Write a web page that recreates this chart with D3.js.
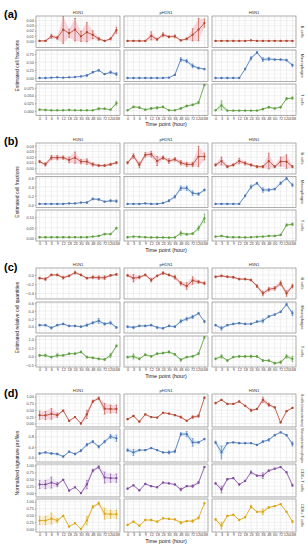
<!DOCTYPE html>
<html>
<head>
<meta charset="utf-8">
<script src="https://cdn.jsdelivr.net/npm/d3@7"></script>
<style>
body { margin: 0; background: #fff; }
text { font-family: "Liberation Sans", Arial, sans-serif; }
</style>
</head>
<body>
<svg id="chart" width="308" height="550"></svg>
<script>
const times = ['0', '3', '6', '9', '12', '18', '24', '30', '36', '48', '60', '72', '120', '168']
const strains = ['H1N1', 'pH1N1', 'H5N1']

// (a) estimated cell fractions
const aB = [
  [0.000, 0.000, 0.009, 0.006, 0.022, 0.015, 0.022, 0.009, 0.017, 0.012, 0.004, 0.000, 0.004, 0.021],
  [0.000, 0.000, 0.000, 0.000, 0.010, 0.003, 0.012, 0.008, 0.009, 0.001, 0.004, 0.012, 0.022, 0.035],
  [0.000, 0.000, 0.000, 0.000, 0.000, 0.000, 0.001, 0.000, 0.000, 0.000, 0.000, 0.000, 0.000, 0.000]
]
const aBe = [
  [0.001, 0.001, 0.004, 0.003, 0.027, 0.008, 0.022, 0.010, 0.019, 0.008, 0.003, 0.001, 0.002, 0.006],
  [0.001, 0.001, 0.001, 0.001, 0.008, 0.002, 0.004, 0.002, 0.003, 0.001, 0.002, 0.012, 0.022, 0.008],
  [0.0003, 0.0003, 0.0003, 0.0003, 0.0003, 0.0003, 0.0005, 0.0003, 0.0003, 0.0003, 0.0003, 0.0003, 0.0003, 0.0003]
]
const aM = [
  [0.00, 0.00, 0.01, 0.02, 0.01, 0.02, 0.03, 0.05, 0.08, 0.18, 0.24, 0.12, 0.18, 0.12],
  [0.00, 0.00, 0.00, 0.00, 0.00, 0.00, 0.00, 0.01, 0.10, 0.58, 0.53, 0.38, 0.31, 0.28],
  [0.00, 0.00, 0.00, 0.00, 0.00, 0.28, 0.62, 0.80, 0.58, 0.60, 0.58, 0.58, 0.56, 0.40]
]
const aMe = [
  [0.005, 0.005, 0.005, 0.01, 0.005, 0.005, 0.01, 0.01, 0.03, 0.02, 0.03, 0.01, 0.04, 0.05],
  [0.005, 0.005, 0.005, 0.005, 0.005, 0.005, 0.005, 0.005, 0.02, 0.06, 0.05, 0.06, 0.03, 0.02],
  [0.005, 0.005, 0.005, 0.005, 0.005, 0.03, 0.05, 0.03, 0.06, 0.05, 0.02, 0.02, 0.03, 0.04]
]
const aT = [
  [0.004, 0.003, 0.002, 0.002, 0.002, 0.003, 0.002, 0.002, 0.002, 0.002, 0.007, 0.007, 0.004, 0.025],
  [0.002, 0.013, 0.011, 0.004, 0.008, 0.010, 0.013, 0.002, 0.002, 0.008, 0.016, 0.020, 0.027, 0.085],
  [0.002, 0.018, 0.001, 0.001, 0.001, 0.001, 0.001, 0.001, 0.006, 0.012, 0.008, 0.012, 0.040, 0.042]
]
const aTe = [
  [0.002, 0.001, 0.001, 0.001, 0.001, 0.001, 0.001, 0.001, 0.001, 0.001, 0.003, 0.002, 0.002, 0.006],
  [0.001, 0.003, 0.003, 0.002, 0.003, 0.004, 0.003, 0.001, 0.001, 0.003, 0.003, 0.003, 0.004, 0.003],
  [0.001, 0.015, 0.001, 0.001, 0.001, 0.001, 0.001, 0.001, 0.003, 0.003, 0.002, 0.003, 0.004, 0.004]
]

// (b) estimated cell fractions, second method
const bB = [
  [0.012, 0.007, 0.019, 0.019, 0.019, 0.015, 0.019, 0.012, 0.012, 0.007, 0.005, 0.005, 0.007, 0.010],
  [0.010, 0.022, 0.006, 0.024, 0.025, 0.013, 0.019, 0.013, 0.016, 0.010, 0.007, 0.007, 0.021, 0.021],
  [0.006, 0.013, 0.003, 0.006, 0.013, 0.009, 0.006, 0.003, 0.003, 0.013, 0.003, 0.012, 0.012, 0.003]
]
const bBe = [
  [0.002, 0.003, 0.004, 0.004, 0.003, 0.005, 0.010, 0.004, 0.005, 0.003, 0.002, 0.002, 0.002, 0.002],
  [0.002, 0.004, 0.005, 0.004, 0.005, 0.008, 0.003, 0.004, 0.003, 0.004, 0.004, 0.004, 0.018, 0.006],
  [0.002, 0.007, 0.002, 0.002, 0.005, 0.003, 0.002, 0.002, 0.002, 0.014, 0.002, 0.008, 0.012, 0.002]
]
const bM = [
  [0.02, 0.02, 0.02, 0.02, 0.02, 0.03, 0.03, 0.05, 0.05, 0.13, 0.12, 0.07, 0.09, 0.08],
  [0.02, 0.02, 0.02, 0.03, 0.02, 0.02, 0.04, 0.09, 0.18, 0.37, 0.37, 0.26, 0.24, 0.33],
  [0.02, 0.02, 0.02, 0.02, 0.02, 0.20, 0.40, 0.48, 0.33, 0.33, 0.35, 0.48, 0.59, 0.44]
]
const bMe = [
  [0.01, 0.01, 0.01, 0.01, 0.01, 0.01, 0.01, 0.01, 0.02, 0.02, 0.02, 0.01, 0.02, 0.03],
  [0.01, 0.01, 0.01, 0.01, 0.01, 0.01, 0.01, 0.02, 0.03, 0.05, 0.05, 0.05, 0.03, 0.02],
  [0.01, 0.01, 0.01, 0.01, 0.01, 0.02, 0.04, 0.02, 0.05, 0.03, 0.02, 0.03, 0.03, 0.03]
]
const bT = [
  [0.005, 0.005, 0.005, 0.005, 0.005, 0.005, 0.005, 0.005, 0.005, 0.008, 0.011, 0.020, 0.020, 0.048],
  [0.005, 0.008, 0.007, 0.005, 0.004, 0.004, 0.004, 0.003, 0.004, 0.024, 0.019, 0.022, 0.048, 0.095],
  [0.008, 0.011, 0.006, 0.005, 0.005, 0.004, 0.005, 0.007, 0.008, 0.011, 0.011, 0.016, 0.063, 0.067]
]
const bTe = [
  [0.002, 0.002, 0.002, 0.002, 0.002, 0.002, 0.002, 0.002, 0.002, 0.002, 0.003, 0.004, 0.004, 0.004],
  [0.002, 0.002, 0.002, 0.002, 0.002, 0.002, 0.002, 0.002, 0.002, 0.010, 0.004, 0.004, 0.010, 0.020],
  [0.002, 0.002, 0.002, 0.002, 0.002, 0.002, 0.002, 0.002, 0.002, 0.003, 0.003, 0.003, 0.006, 0.006]
]

// (c) estimated relative cell quantities
const cB = [
  [-0.07, -0.09, 0.00, 0.00, -0.06, -0.02, 0.05, 0.00, -0.07, -0.05, -0.06, -0.06, -0.01, 0.01],
  [-0.01, -0.07, -0.05, 0.00, -0.11, -0.02, 0.04, 0.00, -0.05, -0.18, -0.24, -0.12, -0.15, -0.18],
  [-0.04, -0.02, -0.04, -0.05, -0.09, -0.09, -0.11, -0.24, -0.40, -0.31, -0.29, -0.18, -0.40, -0.24]
]
const cBe = [
  [0.02, 0.03, 0.02, 0.02, 0.03, 0.02, 0.03, 0.02, 0.02, 0.03, 0.04, 0.04, 0.02, 0.02],
  [0.02, 0.08, 0.03, 0.02, 0.04, 0.02, 0.03, 0.02, 0.04, 0.04, 0.07, 0.08, 0.03, 0.03],
  [0.02, 0.02, 0.02, 0.02, 0.02, 0.02, 0.02, 0.03, 0.05, 0.04, 0.04, 0.05, 0.06, 0.04]
]
const cM = [
  [0.04, 0.04, -0.03, 0.04, 0.07, 0.02, 0.02, 0.00, 0.04, 0.10, 0.15, 0.07, 0.10, -0.02],
  [0.00, -0.02, 0.02, 0.02, 0.04, -0.02, -0.04, 0.02, 0.00, 0.14, 0.20, 0.25, 0.34, 0.13],
  [0.04, -0.04, 0.04, 0.07, 0.09, 0.07, 0.07, 0.13, 0.15, 0.26, 0.31, 0.38, 0.57, 0.34]
]
const cMe = [
  [0.02, 0.02, 0.03, 0.02, 0.02, 0.02, 0.02, 0.02, 0.03, 0.03, 0.06, 0.03, 0.04, 0.02],
  [0.02, 0.03, 0.02, 0.02, 0.02, 0.02, 0.02, 0.02, 0.02, 0.04, 0.04, 0.04, 0.02, 0.03],
  [0.02, 0.05, 0.02, 0.02, 0.02, 0.02, 0.02, 0.02, 0.05, 0.02, 0.02, 0.02, 0.03, 0.06]
]
const cT = [
  [0.06, 0.06, -0.04, 0.06, 0.06, 0.16, 0.16, 0.26, -0.04, -0.08, -0.14, -0.18, 0.06, 0.62],
  [-0.04, 0.00, -0.14, 0.10, 0.00, 0.16, 0.20, 0.26, 0.12, -0.20, -0.04, 0.00, 0.16, 1.12],
  [-0.14, 0.00, -0.24, -0.04, 0.00, 0.00, 0.00, 0.00, -0.24, -0.24, -0.40, -0.34, 0.00, -0.14]
]
const cTe = [
  [0.05, 0.08, 0.05, 0.10, 0.04, 0.04, 0.05, 0.05, 0.06, 0.05, 0.05, 0.05, 0.12, 0.06],
  [0.05, 0.15, 0.05, 0.05, 0.05, 0.05, 0.05, 0.06, 0.05, 0.08, 0.05, 0.05, 0.06, 0.06],
  [0.05, 0.10, 0.05, 0.05, 0.05, 0.05, 0.08, 0.05, 0.06, 0.05, 0.05, 0.08, 0.10, 0.15]
]

// (d) normalized signature profiles
const dB = [
  [0.31, 0.30, 0.36, 0.31, 0.48, 0.10, 0.24, 0.00, 0.34, 0.82, 0.94, 0.55, 0.54, 0.54],
  [0.16, 0.28, 0.07, 0.34, 0.24, 0.22, 0.40, 0.37, 0.31, 0.24, 0.10, 0.24, 0.28, 0.96],
  [0.76, 0.88, 0.73, 0.73, 0.82, 0.66, 0.49, 0.54, 0.88, 0.70, 0.60, 0.04, 0.46, 0.58]
]
const dBe = [
  [0.15, 0.15, 0.20, 0.08, 0.02, 0.02, 0.02, 0.02, 0.15, 0.05, 0.05, 0.20, 0.15, 0.15],
  [0.02, 0.02, 0.02, 0.02, 0.02, 0.02, 0.02, 0.02, 0.02, 0.04, 0.02, 0.05, 0.05, 0.02],
  [0.03, 0.02, 0.02, 0.02, 0.02, 0.02, 0.05, 0.02, 0.10, 0.06, 0.02, 0.02, 0.02, 0.02]
]
const dM = [
  [0.15, 0.19, 0.15, 0.13, 0.03, 0.22, 0.13, 0.26, 0.49, 0.61, 0.41, 0.61, 0.81, 0.74],
  [0.28, 0.19, 0.28, 0.28, 0.36, 0.28, 0.19, 0.19, 0.23, 0.90, 0.90, 0.58, 0.58, 0.71],
  [0.58, 0.19, 0.55, 0.58, 0.55, 0.55, 0.55, 0.48, 0.61, 0.68, 0.86, 0.97, 0.86, 0.52]
]
const dMe = [
  [0.03, 0.02, 0.03, 0.03, 0.03, 0.02, 0.03, 0.04, 0.05, 0.04, 0.05, 0.05, 0.08, 0.12],
  [0.05, 0.12, 0.03, 0.02, 0.02, 0.02, 0.02, 0.06, 0.05, 0.06, 0.10, 0.15, 0.03, 0.03],
  [0.05, 0.25, 0.03, 0.02, 0.02, 0.02, 0.02, 0.02, 0.04, 0.05, 0.03, 0.02, 0.03, 0.08]
]
const dC4 = [
  [0.31, 0.31, 0.38, 0.31, 0.48, 0.09, 0.21, 0.00, 0.31, 0.81, 0.94, 0.56, 0.54, 0.54],
  [0.16, 0.28, 0.10, 0.33, 0.25, 0.21, 0.38, 0.35, 0.31, 0.13, 0.25, 0.25, 0.38, 0.94],
  [0.35, 0.13, 0.50, 0.54, 0.31, 0.44, 0.75, 0.63, 0.63, 0.81, 0.88, 0.94, 0.75, 0.28]
]
const dC4e = [
  [0.15, 0.15, 0.20, 0.08, 0.02, 0.02, 0.02, 0.02, 0.15, 0.05, 0.05, 0.20, 0.15, 0.15],
  [0.02, 0.02, 0.02, 0.02, 0.02, 0.02, 0.02, 0.02, 0.02, 0.05, 0.02, 0.05, 0.04, 0.02],
  [0.03, 0.12, 0.02, 0.02, 0.02, 0.02, 0.05, 0.02, 0.10, 0.03, 0.02, 0.02, 0.02, 0.04]
]
const dC8 = [
  [0.31, 0.31, 0.38, 0.31, 0.48, 0.09, 0.21, 0.00, 0.31, 0.81, 0.94, 0.56, 0.54, 0.54],
  [0.15, 0.27, 0.12, 0.33, 0.33, 0.27, 0.39, 0.37, 0.35, 0.23, 0.29, 0.29, 0.41, 0.94],
  [0.35, 0.12, 0.48, 0.52, 0.33, 0.43, 0.82, 0.63, 0.63, 0.79, 0.84, 0.91, 0.63, 0.27]
]
const dC8e = [
  [0.15, 0.15, 0.20, 0.08, 0.02, 0.02, 0.02, 0.02, 0.15, 0.05, 0.05, 0.20, 0.15, 0.15],
  [0.02, 0.02, 0.02, 0.02, 0.02, 0.02, 0.02, 0.02, 0.02, 0.05, 0.02, 0.05, 0.04, 0.02],
  [0.03, 0.12, 0.02, 0.02, 0.02, 0.02, 0.05, 0.02, 0.10, 0.03, 0.02, 0.02, 0.02, 0.04]
]

const red = '#b2452c', blue = '#4a72b5', green = '#5b9b3a', purple = '#7e4a9e', gold = '#d9a30f'

const blocks = [
  {key: 'a', label: '(a)', yTitle: 'Estimated cell fractions', top: 16, rowH: 31.5, gap: 2.5, labelY: 18,
    rows: [
      {name: 'B cells', color: red, fill: '#f5b6c4', vals: aB, errs: aBe, domain: [-0.013, 0.049], ticks: [0, 0.01, 0.02, 0.03, 0.04], fmt: '.2f'},
      {name: 'Macrophages', color: blue, fill: '#bfe0ef', vals: aM, errs: aMe, domain: [-0.11, 0.88], ticks: [0, 0.25, 0.5, 0.75], fmt: '.2f'},
      {name: 'T cells', color: green, fill: '#cdeac4', vals: aT, errs: aTe, domain: [-0.015, 0.088], ticks: [0, 0.025, 0.05, 0.075], fmt: '.3f'}
    ]},
  {key: 'b', label: '(b)', yTitle: 'Estimated cell fractions', top: 143, rowH: 31, gap: 2.5, labelY: 145,
    rows: [
      {name: 'B cells', color: red, fill: '#f5b6c4', vals: bB, errs: bBe, domain: [-0.010, 0.045], ticks: [0, 0.01, 0.02, 0.03, 0.04], fmt: '.2f'},
      {name: 'Macrophages', color: blue, fill: '#bfe0ef', vals: bM, errs: bMe, domain: [-0.06, 0.63], ticks: [0, 0.2, 0.4, 0.6], fmt: '.1f'},
      {name: 'T cells', color: green, fill: '#cdeac4', vals: bT, errs: bTe, domain: [-0.013, 0.135], ticks: [0, 0.05, 0.1], fmt: '.2f'}
    ]},
  {key: 'c', label: '(c)', yTitle: 'Estimated relative cell quantities', top: 268, rowH: 31, gap: 3, labelY: 271,
    rows: [
      {name: 'B cells', color: red, fill: '#f5b6c4', vals: cB, errs: cBe, domain: [-0.52, 0.15], ticks: [-0.4, -0.2, 0], fmt: '.1f'},
      {name: 'Macrophages', color: blue, fill: '#bfe0ef', vals: cM, errs: cMe, domain: [-0.16, 0.63], ticks: [0, 0.2, 0.4, 0.6], fmt: '.1f'},
      {name: 'T cells', color: green, fill: '#cdeac4', vals: cT, errs: cTe, domain: [-0.62, 1.2], ticks: [-0.5, 0, 0.5, 1], fmt: '.1f'}
    ]},
  {key: 'd', label: '(d)', yTitle: 'Normalized signature profiles', top: 394, rowH: 33, gap: 2, labelY: 397,
    rows: [
      {name: 'B cells (naive+memory)', color: red, fill: '#f5b6c4', vals: dB, errs: dBe, domain: [-0.13, 1.1], ticks: [0, 0.25, 0.5, 0.75, 1], fmt: '.2f'},
      {name: 'Monocytes/macrophages', color: blue, fill: '#bfe0ef', vals: dM, errs: dMe, domain: [-0.18, 1.1], ticks: [0, 0.4, 0.8], fmt: '.1f'},
      {name: 'CD4+ T cells', color: purple, fill: '#e2cdea', vals: dC4, errs: dC4e, domain: [-0.14, 1.05], ticks: [0, 0.25, 0.5, 0.75, 1], fmt: '.2f'},
      {name: 'CD8+ T cells', color: gold, fill: '#f6e2a8', vals: dC8, errs: dC8e, domain: [-0.11, 1.1], ticks: [0, 0.25, 0.5, 0.75, 1], fmt: '.2f'}
    ]}
]

const svg = d3.select('#chart')
const colX = [36, 124, 212]
const colW = 84
const gridCol = '#e6e6e6'

const x = d3.scalePoint().domain(times).range([0, colW]).padding(0.6)

function drawBlock(b) {
  const n = b.rows.length
  const bottom = b.top + n * b.rowH + (n - 1) * b.gap

  svg.append('text')
    .attr('x', 4).attr('y', b.labelY)
    .attr('font-size', 11).attr('font-weight', 'bold')
    .text(b.label)

  svg.append('text')
    .attr('transform', `translate(19,${(b.top + bottom) / 2}) rotate(-90)`)
    .attr('text-anchor', 'middle')
    .attr('font-size', 5)
    .attr('fill', '#222')
    .text(b.yTitle)

  svg.append('text')
    .attr('x', colX[0] + (colX[2] + colW - colX[0]) / 2)
    .attr('y', bottom + 10.5)
    .attr('text-anchor', 'middle')
    .attr('font-size', 5.5)
    .attr('fill', '#222')
    .text('Time point (hour)')

  b.rows.forEach((row, r) => {
    const top = b.top + r * (b.rowH + b.gap)
    const y = d3.scaleLinear().domain(row.domain).range([b.rowH, 0])
    const step = row.ticks[1] - row.ticks[0]
    const minor = d3.range(row.ticks[0] - step / 2, row.domain[1], step)
      .filter(v => v > row.domain[0])
    const stripSize = row.name.length > 14 ? 3.1 : 4

    strains.forEach((s, c) => {
      const vals = row.vals[c], errs = row.errs[c]
      const pts = times.map((t, i) => ({t: t, v: vals[i], e: errs[i]}))
      const g = svg.append('g').attr('transform', `translate(${colX[c]},${top})`)
      const clipId = `clip-${b.key}-${r}-${c}`

      g.append('clipPath').attr('id', clipId)
        .append('rect').attr('width', colW).attr('height', b.rowH)

      g.append('rect').attr('width', colW).attr('height', b.rowH).attr('fill', '#fff')

      const inner = g.append('g').attr('clip-path', `url(#${clipId})`)

      inner.selectAll('.minor').data(minor).join('line')
        .attr('x1', 0).attr('x2', colW)
        .attr('y1', d => y(d)).attr('y2', d => y(d))
        .attr('stroke', gridCol).attr('stroke-width', 0.3)
      inner.selectAll('.major').data(row.ticks).join('line')
        .attr('x1', 0).attr('x2', colW)
        .attr('y1', d => y(d)).attr('y2', d => y(d))
        .attr('stroke', gridCol).attr('stroke-width', 0.6)
      inner.selectAll('.vgrid').data(times).join('line')
        .attr('x1', d => x(d)).attr('x2', d => x(d))
        .attr('y1', 0).attr('y2', b.rowH)
        .attr('stroke', gridCol).attr('stroke-width', 0.6)

      inner.append('path').datum(pts)
        .attr('d', d3.area().x(d => x(d.t)).y0(d => y(d.v - d.e)).y1(d => y(d.v + d.e)))
        .attr('fill', row.fill).attr('opacity', 0.55)

      inner.append('path').datum(pts)
        .attr('d', d3.line().x(d => x(d.t)).y(d => y(d.v)))
        .attr('fill', 'none').attr('stroke', row.color).attr('stroke-width', 0.8)

      const eb = inner.selectAll('.eb').data(pts).join('g')
      eb.append('line')
        .attr('x1', d => x(d.t)).attr('x2', d => x(d.t))
        .attr('y1', d => y(d.v - d.e)).attr('y2', d => y(d.v + d.e))
        .attr('stroke', row.color).attr('stroke-width', 0.6)
      eb.append('line')
        .attr('x1', d => x(d.t) - 1).attr('x2', d => x(d.t) + 1)
        .attr('y1', d => y(d.v - d.e)).attr('y2', d => y(d.v - d.e))
        .attr('stroke', row.color).attr('stroke-width', 0.5)
      eb.append('line')
        .attr('x1', d => x(d.t) - 1).attr('x2', d => x(d.t) + 1)
        .attr('y1', d => y(d.v + d.e)).attr('y2', d => y(d.v + d.e))
        .attr('stroke', row.color).attr('stroke-width', 0.5)

      inner.selectAll('.pt').data(pts).join('circle')
        .attr('cx', d => x(d.t)).attr('cy', d => y(d.v))
        .attr('r', 1.15).attr('fill', row.color)

      g.append('rect').attr('width', colW).attr('height', b.rowH)
        .attr('fill', 'none').attr('stroke', '#8a8a8a').attr('stroke-width', 0.7)

      if (c === 0) {
        const ax = g.append('g')
          .call(d3.axisLeft(y).tickValues(row.ticks).tickFormat(d3.format(row.fmt)).tickSize(1.2).tickPadding(1))
        ax.select('.domain').remove()
        ax.selectAll('line').attr('stroke', '#555').attr('stroke-width', 0.4)
        ax.selectAll('text').attr('font-size', 3.8).attr('fill', '#444')
          .attr('font-family', '"Liberation Sans", Arial, sans-serif')
      }

      if (r === n - 1) {
        const ax = g.append('g').attr('transform', `translate(0,${b.rowH})`)
          .call(d3.axisBottom(x).tickSize(1.2).tickPadding(0.6))
        ax.select('.domain').remove()
        ax.selectAll('line').attr('stroke', '#555').attr('stroke-width', 0.4)
        ax.selectAll('text').attr('font-size', 3.8).attr('fill', '#444')
          .attr('font-family', '"Liberation Sans", Arial, sans-serif')
      }

      if (r === 0) {
        svg.append('text')
          .attr('x', colX[c] + colW / 2).attr('y', top - 2.2)
          .attr('text-anchor', 'middle')
          .attr('font-size', 4.2).attr('fill', '#333')
          .text(s)
      }

      if (c === 2) {
        svg.append('text')
          .attr('transform', `translate(${colX[2] + colW + 4.5},${top + b.rowH / 2}) rotate(90)`)
          .attr('text-anchor', 'middle')
          .attr('font-size', stripSize).attr('fill', '#333')
          .text(row.name)
      }
    })
  })
}

blocks.forEach(drawBlock)
</script>
</body>
</html>
